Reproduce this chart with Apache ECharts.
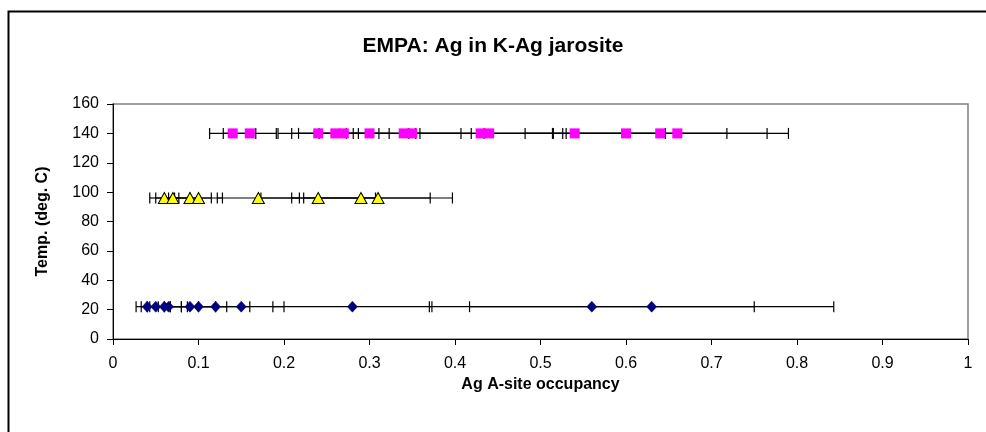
<!DOCTYPE html>
<html>
<head>
<meta charset="utf-8">
<script src="https://cdn.jsdelivr.net/npm/echarts@6/dist/echarts.min.js"></script>
<style>
html,body{margin:0;padding:0;background:#fff;}
#c{width:986px;height:432px;}
</style>
</head>
<body>
<div id="c"></div>
<script>
// ---- data ----
const titleText = 'EMPA: Ag in K-Ag jarosite';
const xName = 'Ag A-site occupancy';
const yName = 'Temp. (deg. C)';

// 22 deg C (diamonds)
const t22Temp = 22;
const t22X   = [0.04, 0.05, 0.06, 0.065, 0.09, 0.10, 0.12, 0.15, 0.28, 0.56, 0.63];
const t22Err = [0.013, 0.017, 0.02, 0.022, 0.03, 0.033, 0.04, 0.05, 0.093, 0.19, 0.213];

// 97 deg C (triangles)
const t97Temp = 96;
const t97X   = [0.06, 0.07, 0.09, 0.10, 0.17, 0.24, 0.29, 0.31];
const t97Err = [0.017, 0.02, 0.025, 0.028, 0.048, 0.067, 0.081, 0.087];

// 140 deg C (squares)
const t140Temp = 140;
const t140X   = [0.14, 0.16, 0.24, 0.26, 0.27, 0.30, 0.34, 0.35, 0.43, 0.44, 0.54, 0.60, 0.64, 0.66];
const t140Err = [0.027, 0.031, 0.047, 0.051, 0.053, 0.059, 0.067, 0.069, 0.084, 0.086, 0.106, 0.118, 0.125, 0.13];

const xTicks = [0, 0.1, 0.2, 0.3, 0.4, 0.5, 0.6, 0.7, 0.8, 0.9, 1];
const yTicks = [0, 20, 40, 60, 80, 100, 120, 140, 160];

// ---- build ----
function pts(xs, t) { return xs.map(x => [x, t]); }
function bars(xs, errs, t) { return xs.map((x, i) => [x, t, x - errs[i], x + errs[i]]); }

function renderErr(params, api) {
  const y = api.value(1);
  const lo = api.coord([api.value(2), y]);
  const hi = api.coord([api.value(3), y]);
  const h = 5.5;
  const st = { stroke: '#000', lineWidth: 1.2 };
  return {
    type: 'group',
    children: [
      { type: 'line', shape: { x1: lo[0], y1: lo[1], x2: hi[0], y2: hi[1] }, style: st },
      { type: 'line', shape: { x1: lo[0], y1: lo[1] - h, x2: lo[0], y2: lo[1] + h }, style: st },
      { type: 'line', shape: { x1: hi[0], y1: hi[1] - h, x2: hi[0], y2: hi[1] + h }, style: st }
    ]
  };
}

const font = 'Liberation Sans, Arial, sans-serif';
const chart = echarts.init(document.getElementById('c'), null, { renderer: 'canvas' });
chart.setOption({
  animation: false,
  backgroundColor: '#fff',
  title: {
    text: titleText, left: 'center', top: 31,
    textStyle: { fontFamily: font, fontSize: 21, fontWeight: 'bold', color: '#000' }
  },
  graphic: [{
    type: 'rect', shape: { x: 8.5, y: 11.5, width: 1000, height: 450 },
    style: { fill: 'none', stroke: '#000', lineWidth: 2 }, z: 100, silent: true
  }],
  grid: { left: 113, right: 18, top: 104, bottom: 93, show: true, borderColor: '#808080', borderWidth: 1.5, backgroundColor: 'transparent' },
  xAxis: {
    type: 'value', min: xTicks[0], max: xTicks[xTicks.length - 1], interval: 0.1,
    name: xName, nameLocation: 'middle', nameGap: 34,
    nameTextStyle: { fontFamily: font, fontSize: 16, fontWeight: 'bold', color: '#000' },
    axisLine: { show: true, onZero: false, lineStyle: { color: '#000', width: 1 } },
    axisTick: { show: true, inside: false, length: 6, lineStyle: { color: '#000' } },
    axisLabel: { fontFamily: font, fontSize: 16, color: '#000', margin: 17,
      formatter: v => String(Math.round(v * 10) / 10) },
    splitLine: { show: false }
  },
  yAxis: {
    type: 'value', min: yTicks[0], max: yTicks[yTicks.length - 1], interval: 20,
    name: yName, nameLocation: 'middle', nameGap: 62, nameRotate: 90,
    nameTextStyle: { fontFamily: font, fontSize: 16, fontWeight: 'bold', color: '#000' },
    axisLine: { show: true, onZero: false, lineStyle: { color: '#000', width: 1 } },
    axisTick: { show: true, inside: false, length: 6, lineStyle: { color: '#000' } },
    axisLabel: { fontFamily: font, fontSize: 16, color: '#000', margin: 14 },
    splitLine: { show: false }
  },
  series: [
    { type: 'custom', name: 'err22', renderItem: renderErr, data: bars(t22X, t22Err, t22Temp), z: 2, encode: { x: [0, 2, 3], y: 1 } },
    { type: 'custom', name: 'err97', renderItem: renderErr, data: bars(t97X, t97Err, t97Temp), z: 2, encode: { x: [0, 2, 3], y: 1 } },
    { type: 'custom', name: 'err140', renderItem: renderErr, data: bars(t140X, t140Err, t140Temp), z: 2, encode: { x: [0, 2, 3], y: 1 } },
    { type: 'scatter', name: '22', data: pts(t22X, t22Temp), symbol: 'diamond', symbolSize: [10, 11], z: 5,
      itemStyle: { color: '#000080', borderColor: '#000060', borderWidth: 0.5, opacity: 1 } },
    { type: 'scatter', name: '97', data: pts(t97X, t97Temp), symbol: 'triangle', symbolSize: [12, 11], z: 5,
      itemStyle: { color: '#FFFF00', borderColor: '#000', borderWidth: 1, opacity: 1 } },
    { type: 'scatter', name: '140', data: pts(t140X, t140Temp), symbol: 'rect', symbolSize: [10, 10], z: 5,
      itemStyle: { color: '#FF00FF', borderWidth: 0, opacity: 1 } }
  ]
});
</script>
</body>
</html>
